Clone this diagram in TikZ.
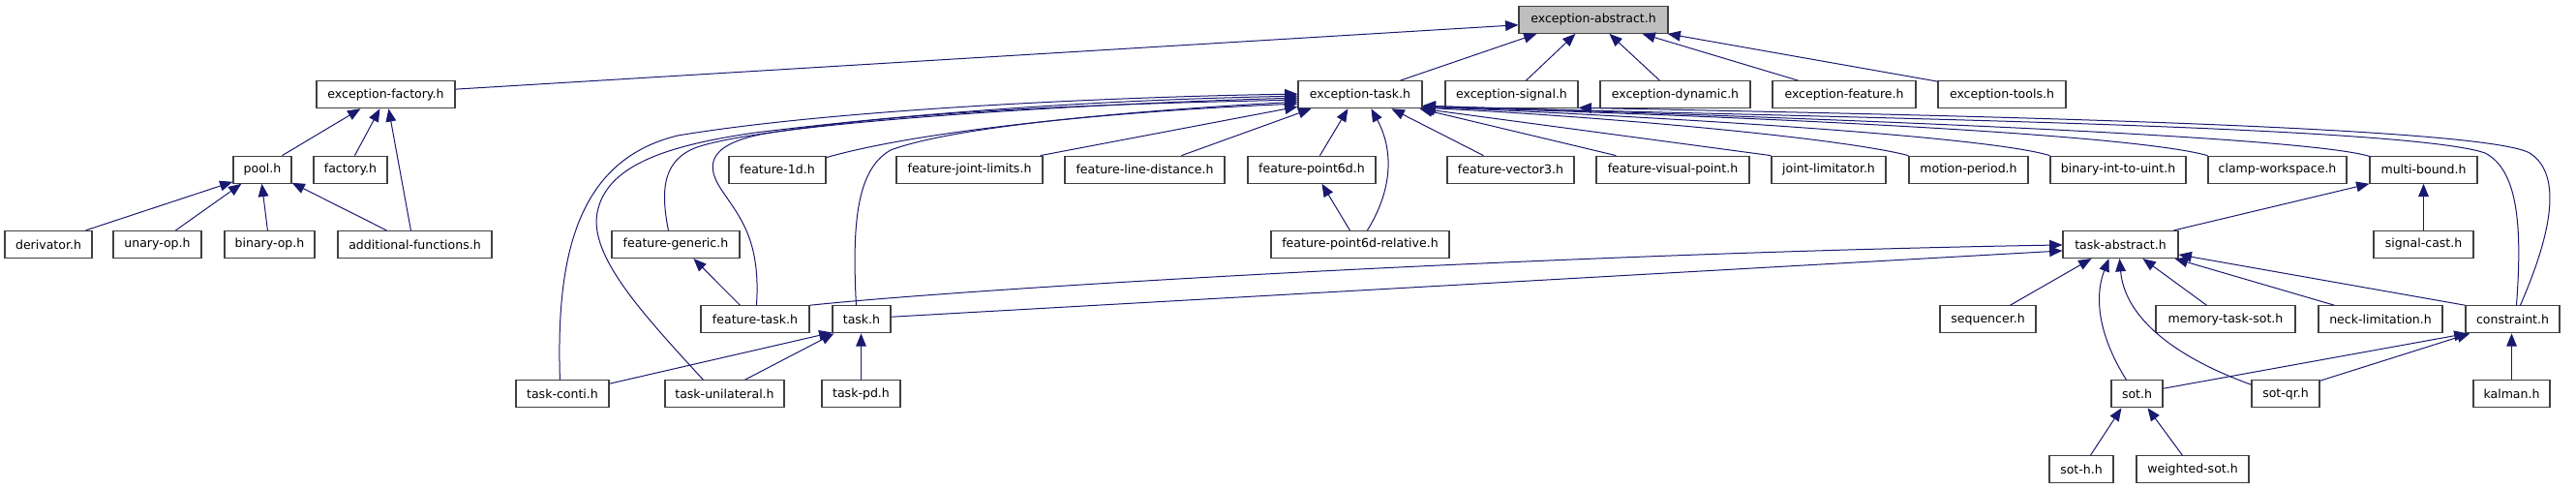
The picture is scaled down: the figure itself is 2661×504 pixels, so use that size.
\documentclass[tikz,border=0pt]{standalone}
\usepackage{fontspec}
\setmainfont{DejaVu Sans}
\usetikzlibrary{arrows.meta,calc}
\definecolor{edgec}{HTML}{191970}
\definecolor{boxc}{HTML}{404040}
\definecolor{rootc}{HTML}{BFBFBF}
\tikzset{
  box/.style={draw=boxc, line width=0.85pt, fill=white, rectangle, inner sep=0pt,
    minimum height=21pt, font=\fontsize{9.4}{11}\selectfont, text=black},
  edge/.style={draw=edgec, line width=0.75pt, -{Triangle[length=10pt,width=8pt]}, fill=none},
}
\newcommand{\bx}[6][]{\node[box,#1,minimum width={(#4-#3)*0.75pt}] (#2) at ({(#3+#4)/2},#5) {#6};}
\begin{document}
\begin{tikzpicture}[x=0.75pt,y=-0.75pt]
\useasboundingbox (0,0) rectangle (2661,504);
% rows
\def\rA{20.3}\def\rB{97.7}\def\rC{175.2}\def\rD{252.5}\def\rE{329.8}\def\rF{406.8}\def\rG{484.8}
\bx[fill=rootc]{abs}{1569}{1723}{\rA}{exception-abstract.h}
\bx{efac}{327}{470}{\rB}{exception-factory.h}
\bx{etask}{1341}{1469}{\rB}{exception-task.h}
\bx{esig}{1493}{1630}{\rB}{exception-signal.h}
\bx{edyn}{1653}{1808}{\rB}{exception-dynamic.h}
\bx{efeat}{1831}{1979}{\rB}{exception-feature.h}
\bx{etools}{2002}{2134}{\rB}{exception-tools.h}
\bx{pool}{241}{301}{\rC}{pool.h}
\bx{factory}{324}{400}{\rC}{factory.h}
\bx{f1d}{753}{853}{\rC}{feature-1d.h}
\bx{fjl}{926}{1077}{\rC}{feature-joint-limits.h}
\bx{fld}{1100}{1265}{\rC}{feature-line-distance.h}
\bx{fp6}{1289}{1421}{\rC}{feature-point6d.h}
\bx{fv3}{1495}{1626}{\rC}{feature-vector3.h}
\bx{fvp}{1649}{1807}{\rC}{feature-visual-point.h}
\bx{jl}{1830}{1948}{\rC}{joint-limitator.h}
\bx{mp}{1972}{2095}{\rC}{motion-period.h}
\bx{bitu}{2118}{2258}{\rC}{binary-int-to-uint.h}
\bx{clamp}{2281}{2424}{\rC}{clamp-workspace.h}
\bx{mb}{2448}{2559}{\rC}{multi-bound.h}
\bx{deriv}{5}{95}{\rD}{derivator.h}
\bx{unary}{117}{208}{\rD}{unary-op.h}
\bx{binary}{232}{325}{\rD}{binary-op.h}
\bx{addf}{349}{508}{\rD}{additional-functions.h}
\bx{fgen}{632}{764}{\rD}{feature-generic.h}
\bx{fp6r}{1313}{1497}{\rD}{feature-point6d-relative.h}
\bx{tabs}{2131}{2250}{\rD}{task-abstract.h}
\bx{scast}{2452}{2555}{\rD}{signal-cast.h}
\bx{ftask}{724}{836}{\rE}{feature-task.h}
\bx{task}{860}{920}{\rE}{task.h}
\bx{seq}{2004}{2103}{\rE}{sequencer.h}
\bx{mts}{2227}{2371}{\rE}{memory-task-sot.h}
\bx{neck}{2395}{2523}{\rE}{neck-limitation.h}
\bx{cons}{2547}{2644}{\rE}{constraint.h}
\bx{tconti}{533}{629}{\rF}{task-conti.h}
\bx{tuni}{687}{810}{\rF}{task-unilateral.h}
\bx{tpd}{849}{930}{\rF}{task-pd.h}
\bx{sot}{2181}{2234}{\rF}{sot.h}
\bx{sotqr}{2326}{2396}{\rF}{sot-qr.h}
\bx{kalman}{2555}{2634}{\rF}{kalman.h}
\bx{soth}{2117}{2183}{\rG}{sot-h.h}
\bx{wsot}{2207}{2323}{\rG}{weighted-sot.h}

% exception-abstract
\draw[edge] ($(efac.north east)+(0,9)$) -- ($(abs.north west)+(0,20)$);
\draw[edge] ($(etask.north west)+(106,0)$) -- ($(abs.south west)+(19,0)$);
\draw[edge] ($(esig.north west)+(84,0)$) -- ($(abs.south west)+(59,0)$);
\draw[edge] ($(edyn.north west)+(62,0)$) -- ($(abs.south west)+(94,0)$);
\draw[edge] ($(efeat.north west)+(27,0)$) -- ($(abs.south west)+(128,0)$);
\draw[edge] ($(etools.north west)+(0,1)$) -- ($(abs.south east)+(-1,0)$);
% exception-factory
\draw[edge] ($(pool.north west)+(51,0)$) -- ($(efac.south west)+(46,0)$);
\draw[edge] ($(factory.north west)+(43,0)$) -- ($(efac.south west)+(66,0)$);
\draw[edge] ($(addf.north west)+(76,0)$) -- ($(efac.south west)+(75,0)$);
% pool
\draw[edge] ($(deriv.north west)+(84,0)$) -- ($(pool.south west)+(0,-2)$);
\draw[edge] ($(unary.north west)+(65,0)$) -- ($(pool.south west)+(9,0)$);
\draw[edge] ($(binary.north west)+(45,0)$) -- ($(pool.south west)+(30,0)$);
\draw[edge] ($(addf.north west)+(51,0)$) -- ($(pool.south east)+(0,-1)$);
% exception-task, left side
\draw[edge] ($(tconti.north west)+(46,0)$) .. controls (574,260) and (598,165) .. (700,140)
   .. controls (880,110) and (1200,99) .. ($(etask.north west)+(0,14)$);
\draw[edge] ($(tuni.north west)+(40,0)$) .. controls (660,320) and (605,260) .. (618,215)
   .. controls (630,170) and (690,150) .. (780,137)
   .. controls (1000,110) and (1200,102) .. ($(etask.north west)+(0,16)$);
\draw[edge] ($(fgen.north west)+(59,0)$) .. controls (682,195) and (685,165) .. (720,152)
   .. controls (800,125) and (1150,106) .. ($(etask.north west)+(0,18)$);
\draw[edge] ($(ftask.north west)+(58,0)$) .. controls (786,250) and (765,225) .. (748,200)
   .. controls (730,175) and (725,150) .. (790,138)
   .. controls (950,112) and (1200,106) .. ($(etask.north west)+(0,20)$);
\draw[edge] ($(task.north west)+(25,0)$) .. controls (880,230) and (885,175) .. (920,155)
   .. controls (1000,125) and (1250,110) .. ($(etask.north west)+(0,22)$);
\draw[edge] ($(f1d.north east)+(0,2)$) .. controls (950,135) and (1150,115) .. ($(etask.north west)+(0,24)$);
\draw[edge] ($(fjl.north east)+(-3,0)$) -- ($(etask.north west)+(0,27)$);
% exception-task, below
\draw[edge] ($(fld.north west)+(121,0)$) -- ($(etask.south west)+(14,0)$);
\draw[edge] ($(fp6.north west)+(75,0)$) -- ($(etask.south west)+(52,0)$);
\draw[edge] ($(fp6r.north west)+(100,0)$) .. controls (1442,190) and (1437,150) .. ($(etask.south west)+(76,0)$);
\draw[edge] ($(fp6r.north west)+(82,0)$) -- ($(fp6.south west)+(77,0)$);
\draw[edge] ($(fv3.north west)+(38,0)$) -- ($(etask.south west)+(97,0)$);
% exception-task, right side
\draw[edge] ($(fvp.north west)+(21,0)$) -- ($(etask.south east)+(-3,0)$);
\draw[edge] (jl.north west) -- ($(etask.south east)+(-1,0)$);
\draw[edge] (mp.north west) .. controls (1900,142) and (1650,120) .. ($(etask.south east)+(0,-1)$);
\draw[edge] (bitu.north west) .. controls (2050,140) and (1700,120) .. ($(etask.south east)+(0,-2)$);
\draw[edge] (clamp.north west) .. controls (2200,138) and (1800,120) .. ($(etask.south east)+(0,-2)$);
\draw[edge] ($(mb.north west)+(1,1)$) .. controls (2380,140) and (1850,121) .. ($(etask.south east)+(0,-3)$);
\draw[edge] ($(cons.north west)+(53,0)$) .. controls (2606,230) and (2600,175) .. (2567,158)
   .. controls (2480,128) and (1800,120) .. ($(etask.south east)+(0,-3)$);
\draw[edge] ($(cons.north west)+(57,0)$) .. controls (2645,220) and (2640,175) .. (2613,158)
   .. controls (2560,128) and (1900,117) .. ($(esig.south east)+(0,-1)$);
% feature-generic, task-abstract, multi-bound
\draw[edge] ($(ftask.north west)+(41,0)$) -- ($(fgen.south west)+(85,0)$);
\draw[edge] (ftask.north east) .. controls (1000,298) and (1600,262) .. ($(tabs.north west)+(0,15)$);
\draw[edge] ($(task.north east)+(0,12)$) -- ($(tabs.north west)+(0,21)$);
\draw[edge] ($(tabs.north west)+(115,0)$) -- (mb.south west);
\draw[edge] (scast.north) -- (scast.north |- mb.south);
\draw[edge] ($(seq.north west)+(73,0)$) -- ($(tabs.south west)+(30,0)$);
\draw[edge] ($(sot.north west)+(16,0)$) .. controls (2170,350) and (2162,310) .. ($(tabs.south west)+(48,0)$);
\draw[edge] ($(sotqr.north west)+(0,5)$) .. controls (2250,370) and (2195,330) .. ($(tabs.south west)+(59,0)$);
\draw[edge] ($(mts.north west)+(53,0)$) -- ($(tabs.south west)+(83,0)$);
\draw[edge] ($(neck.north west)+(17,0)$) -- ($(tabs.south east)+(-4,0)$);
\draw[edge] (cons.north west) -- ($(tabs.north east)+(0,25)$);
% constraint, sot
\draw[edge] ($(sot.north east)+(0,9)$) -- ($(cons.south west)+(2,0)$);
\draw[edge] ($(sotqr.north east)+(0,1)$) -- ($(cons.south west)+(5,0)$);
\draw[edge] (kalman.north) -- (kalman.north |- cons.south);
\draw[edge] ($(soth.north west)+(43,0)$) -- ($(sot.south west)+(11,0)$);
\draw[edge] ($(wsot.north west)+(48,0)$) -- ($(sot.south west)+(38,0)$);
% task
\draw[edge] ($(tconti.north east)+(0,4)$) -- ($(task.south west)+(0,-1)$);
\draw[edge] ($(tuni.north west)+(83,0)$) -- ($(task.south west)+(2,0)$);
\draw[edge] (tpd.north) -- (tpd.north |- task.south);
\end{tikzpicture}
\end{document}
